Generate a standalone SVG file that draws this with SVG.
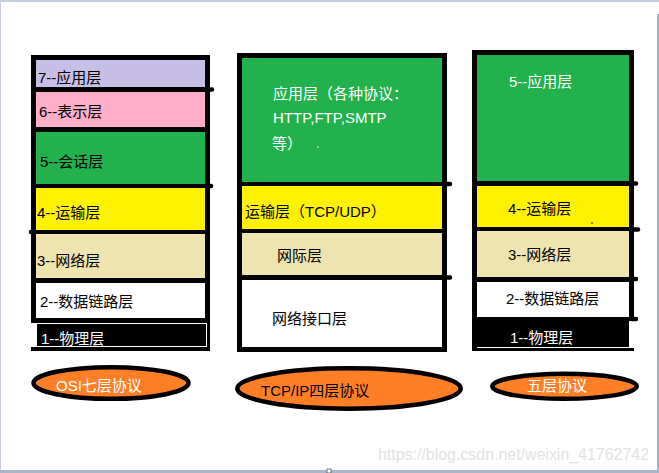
<svg xmlns="http://www.w3.org/2000/svg" width="659" height="473" viewBox="0 0 659 473">
<defs>
<style>
text{font-family:"Liberation Sans","Noto Sans CJK SC",sans-serif;font-size:15px;fill:#000}
.w{fill:#fff}
.frame{fill:#000}
.lav{fill:#c8bfe7}
.pink{fill:#ffaec9}
.green{fill:#22b14c}
.yellow{fill:#fff200}
.tan{fill:#efe4b0}
.white{fill:#fff}
.nub{stroke:#000;stroke-width:4.5;stroke-linecap:round}
.ell{fill:#ff7f27;stroke:#000;stroke-width:4.5}
.wm{font-size:16px;fill:#e3e3e3}
</style>
</defs>
<rect x="0" y="0" width="659" height="473" fill="#fff"/>
<!-- window edges -->
<rect x="0" y="0" width="659" height="2" fill="#c5cde0"/>
<rect x="0" y="0" width="1" height="473" fill="#c5cde0"/>
<rect x="657" y="14" width="2" height="459" fill="#a9b1bf"/>
<rect x="0" y="470" width="659" height="3" fill="#a9b6cc"/>
<rect x="327" y="469" width="4" height="4" fill="#fff" stroke="#555" stroke-width="0.8"/>

<g id="osi-stack">
<rect class="frame" x="31" y="55" width="179" height="268"/>
<rect class="frame" x="205" y="55" width="5" height="296"/>
<rect class="frame" x="31" y="347" width="179" height="4"/>
<line class="nub" x1="208" y1="89.5" x2="212" y2="89.5"/>
<line class="nub" x1="208" y1="186" x2="211" y2="186"/>
<line class="nub" x1="33" y1="232" x2="31" y2="232"/>
<g id="osi-7"><rect class="lav" x="36" y="60" width="169" height="27"/><text x="38" y="83">7--应用层</text></g>
<g id="osi-6"><rect class="pink" x="36" y="92" width="169" height="35"/><text x="39" y="116.5">6--表示层</text></g>
<g id="osi-5"><rect class="green" x="36" y="132" width="169" height="52"/><text x="40" y="167">5--会话层</text></g>
<g id="osi-4"><rect class="yellow" x="36" y="188" width="169" height="42"/><text x="37" y="218">4--运输层</text></g>
<g id="osi-3"><rect class="tan" x="36" y="234" width="169" height="44"/><text x="37" y="266">3--网络层</text></g>
<g id="osi-2"><rect class="white" x="36" y="283" width="169" height="35"/><text x="40" y="307">2--数据链路层</text></g>
<g id="osi-1"><rect x="36.5" y="323.5" width="170" height="23" fill="#000" stroke="#fff" stroke-width="1"/><text class="w" x="41" y="344">1--物理层</text></g>
</g>

<g id="tcpip-stack">
<rect class="frame" x="237" y="53" width="210" height="299"/>
<line class="nub" x1="445" y1="184" x2="450" y2="184"/>
<line class="nub" x1="445" y1="277.5" x2="450" y2="277.5"/>
<g id="tcpip-app"><rect class="green" x="242" y="58" width="200" height="124"/>
<text class="w" x="273" y="98.5">应用层（各种协议：</text>
<text class="w" x="273" y="123">HTTP,FTP,SMTP</text>
<text class="w" x="272" y="148.5">等）</text>
<circle cx="318" cy="147" r="0.8" fill="#fff"/></g>
<g id="tcpip-transport"><rect class="yellow" x="242" y="186" width="200" height="43"/><text x="245" y="216.5">运输层（TCP/UDP）</text></g>
<g id="tcpip-internet"><rect class="tan" x="242" y="233" width="200" height="42"/><text x="277" y="260.5">网际层</text></g>
<g id="tcpip-link"><rect class="white" x="242" y="280" width="200" height="67"/><text x="272" y="323.5">网络接口层</text></g>
</g>

<g id="five-stack">
<rect class="frame" x="472" y="50" width="162" height="271"/>
<rect class="frame" x="472" y="317" width="157" height="30"/>
<rect class="frame" x="472" y="317" width="5" height="34"/>
<rect class="frame" x="477" y="348" width="157" height="3"/>
<line class="nub" x1="632" y1="183.5" x2="636" y2="183.5"/>
<line class="nub" x1="632" y1="229.5" x2="638" y2="229.5"/>
<line class="nub" x1="632" y1="279" x2="636" y2="279"/>
<line class="nub" x1="632" y1="319" x2="636" y2="319"/>
<g id="five-5"><rect class="green" x="477" y="55" width="152" height="126"/><text class="w" x="509" y="86.5">5--应用层</text></g>
<g id="five-4"><rect class="yellow" x="477" y="186" width="152" height="41"/><text x="508" y="213.5">4--运输层</text><circle cx="592" cy="223" r="0.8" fill="#000"/></g>
<g id="five-3"><rect class="tan" x="477" y="231" width="152" height="46"/><text x="508" y="259.5">3--网络层</text></g>
<g id="five-2"><rect class="white" x="477" y="282" width="152" height="35"/><text x="506" y="303.5">2--数据链路层</text></g>
<g id="five-1"><text class="w" x="510" y="342.5">1--物理层</text></g>
</g>

<g id="label-osi"><ellipse class="ell" cx="111" cy="383" rx="77.5" ry="15.8"/><text class="w" x="56" y="391">OSI七层协议</text></g>
<g id="label-tcpip"><ellipse class="ell" cx="349" cy="388.5" rx="111.7" ry="20.2"/><text x="261" y="395.5">TCP/IP四层协议</text></g>
<g id="label-five"><ellipse class="ell" cx="564.5" cy="386.3" rx="72.2" ry="12.5"/><text class="w" x="527" y="391">五层协议</text></g>

<text class="wm" x="378" y="460" textLength="271" lengthAdjust="spacingAndGlyphs">https://blog.csdn.net/weixin_41762742</text>
</svg>
